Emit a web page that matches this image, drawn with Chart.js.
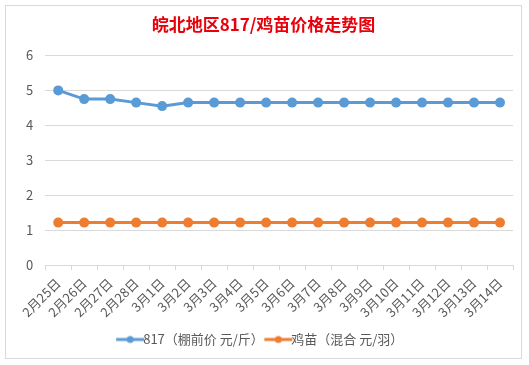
<!DOCTYPE html>
<html>
<head>
<meta charset="utf-8">
<script src="https://cdn.jsdelivr.net/npm/chart.js@4.4.0/dist/chart.umd.min.js"></script>
<style>
  html, body { margin: 0; padding: 0; background: #fff; }
  #wrap {
    position: absolute; left: 5px; top: 5px; width: 515px; height: 352px;
    border: 1px solid #d9d9d9; background: #fff;
  }
</style>
</head>
<body>
<div id="wrap"><canvas id="c"></canvas></div>
<script>
const CATEGORIES = ['2月25日', '2月26日', '2月27日', '2月28日', '3月1日', '3月2日', '3月3日', '3月4日', '3月5日',
  '3月6日', '3月7日', '3月8日', '3月9日', '3月10日', '3月11日', '3月12日', '3月13日', '3月14日'];
const PRICE_817 = [5.0, 4.75, 4.75, 4.65, 4.55, 4.65, 4.65, 4.65, 4.65, 4.65, 4.65, 4.65, 4.65, 4.65, 4.65, 4.65, 4.65, 4.65];
const PRICE_CHICK = [1.22, 1.22, 1.22, 1.22, 1.22, 1.22, 1.22, 1.22, 1.22, 1.22, 1.22, 1.22, 1.22, 1.22, 1.22, 1.22, 1.22, 1.22];
const SERIES_NAMES = ['817（棚前价 元/斤）', '鸡苗（混合 元/羽）'];
const COLORS = ['#5b9bd5', '#ed7d31'];

function legendIcon(color) {
  const cv = document.createElement('canvas');
  cv.width = 30; cv.height = 10;
  const g = cv.getContext('2d');
  g.strokeStyle = color; g.lineWidth = 3;
  g.beginPath(); g.moveTo(1, 5); g.lineTo(29, 5); g.stroke();
  g.fillStyle = color;
  g.beginPath(); g.arc(15, 5, 3.5, 0, Math.PI * 2); g.fill();
  return cv;
}

const FONT = '"Microsoft YaHei", "Noto Sans CJK SC", sans-serif';

new Chart(document.getElementById('c'), {
  type: 'line',
  data: {
    labels: CATEGORIES,
    datasets: [PRICE_817, PRICE_CHICK].map((d, i) => ({
      label: SERIES_NAMES[i],
      data: d,
      borderColor: COLORS[i],
      backgroundColor: COLORS[i],
      borderWidth: 3,
      pointRadius: 3.5,
      pointHoverRadius: 4,
      tension: 0,
    })),
  },
  options: {
    responsive: true,
    maintainAspectRatio: false,
    animation: false,
    layout: { padding: { left: 8, right: 8, top: 2, bottom: 2 } },
    plugins: {
      title: {
        display: true,
        text: '皖北地区817/鸡苗价格走势图',
        color: '#e8000b',
        font: { family: FONT, size: 17, weight: 'bold' },
        padding: { top: 6, bottom: 21 },
      },
      legend: {
        position: 'bottom',
        labels: {
          color: '#595959',
          font: { family: FONT, size: 13 },
          usePointStyle: true,
          boxWidth: 30,
          boxHeight: 10,
          padding: 8,
          generateLabels: (chart) => chart.data.datasets.map((ds, i) => ({
            text: ds.label,
            pointStyle: legendIcon(ds.borderColor),
            fillStyle: ds.borderColor,
            strokeStyle: ds.borderColor,
            fontColor: '#595959',
            lineWidth: 0,
            datasetIndex: i,
          })),
        },
      },
      tooltip: { enabled: false },
    },
    scales: {
      x: {
        offset: true,
        grid: { display: true, drawOnChartArea: false, drawTicks: true, tickLength: 5, color: '#d9d9d9', offset: true },
        border: { display: true, color: '#d9d9d9' },
        ticks: {
          color: '#595959',
          font: { family: FONT, size: 13 },
          maxRotation: 45,
          minRotation: 45,
          autoSkip: false,
          padding: 5,
        },
      },
      y: {
        min: 0,
        max: 6,
        grid: { color: '#d9d9d9', drawTicks: false },
        border: { display: false },
        ticks: {
          stepSize: 1,
          color: '#595959',
          font: { family: FONT, size: 13 },
          padding: 12,
        },
      },
    },
  },
});
</script>
</body>
</html>
